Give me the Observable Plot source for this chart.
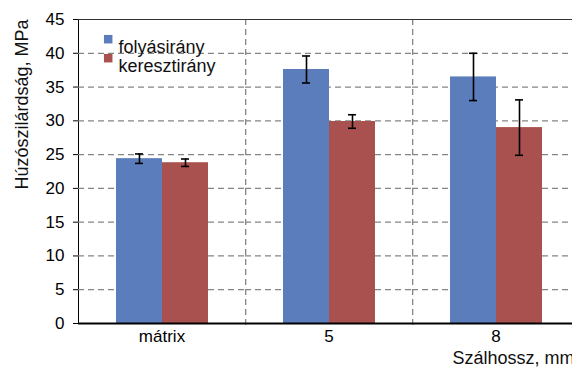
<!DOCTYPE html>
<html><head><meta charset="utf-8">
<script src="https://cdn.jsdelivr.net/npm/d3@7"></script>
<script src="https://cdn.jsdelivr.net/npm/@observablehq/plot@0.6"></script>
<style>html,body{margin:0;padding:0;background:#fff;overflow:hidden;} svg{max-width:none !important;}</style>
</head><body><div id="chart"></div>
<script>
const categories = ["mátrix", "5", "8"];
const series = ["folyásirány", "keresztirány"];
const folyasirany = [24.4, 37.6, 36.5];
const folyasiranyErr = [0.7, 2.0, 3.5];
const keresztirany = [23.8, 29.9, 29.0];
const keresztiranyErr = [0.55, 1.0, 4.1];
const yTicks = [0, 5, 10, 15, 20, 25, 30, 35, 40, 45];
const yLabel = "Húzószilárdság, MPa";
const xLabel = "Szálhossz, mm";
const colors = ["#5B7DBB", "#A9514E"];

const values = [folyasirany, keresztirany];
const errors = [folyasiranyErr, keresztiranyErr];
const rows = [];
categories.forEach((cat, i) => series.forEach((s, j) => {
  rows.push({cat, s, v: values[j][i], lo: values[j][i] - errors[j][i], hi: values[j][i] + errors[j][i]});
}));

const W = 580, ML = 77, MR = 1;
const facetW = (W - ML - MR) / categories.length;
const font = "'Liberation Sans', Arial, sans-serif";

const legendRows = series.map((s, i) => ({cat: categories[0], s, i}));

const chart = Plot.plot({
  width: W, height: 371,
  marginLeft: ML, marginRight: MR, marginTop: 19, marginBottom: 48,
  style: {fontFamily: font, fontSize: "17px", color: "#000", background: "#fff", maxWidth: "none"},
  fx: {domain: categories, padding: 0, label: null, tickSize: 0, tickPadding: 6, axis: "bottom"},
  x: {domain: series, paddingInner: 0, paddingOuter: 0.8, axis: null},
  y: {domain: [0, 45], ticks: yTicks, tickSize: 5, tickPadding: 9, label: null, line: true},
  color: {domain: series, range: colors},
  marks: [
    Plot.ruleY(yTicks.filter(t => t > 0 && t < 45), {stroke: "#858585", strokeWidth: 1.3, strokeDasharray: "6,4"}),
    Plot.ruleX([0], {x: null, dx: facetW / 2, stroke: "#858585", strokeWidth: 1.3, strokeDasharray: "6,4", insetBottom: -5}),
    Plot.ruleY([45], {stroke: "#333", strokeWidth: 1}),
    Plot.barY(rows, {fx: "cat", x: "s", y: "v", fill: "s"}),
    Plot.ruleX(rows, {fx: "cat", x: "s", y1: "lo", y2: "hi", stroke: "#000", strokeWidth: 1.6}),
    Plot.tickY(rows, {fx: "cat", x: "s", y: "lo", stroke: "#000", strokeWidth: 1.6, insetLeft: 19, insetRight: 19}),
    Plot.tickY(rows, {fx: "cat", x: "s", y: "hi", stroke: "#000", strokeWidth: 1.6, insetLeft: 19, insetRight: 19}),
    Plot.ruleY([0], {stroke: "#000", strokeWidth: 2}),
    ...legendRows.map(r => Plot.dot([r], {fx: "cat", frameAnchor: "top-left", dx: 29.7, dy: 19.7 + r.i * 19, symbol: "square", r: 4.8, fill: colors[r.i], stroke: null})),
    ...legendRows.map(r => Plot.text([r], {fx: "cat", frameAnchor: "top-left", dx: 40, dy: 21 + r.i * 19, text: "s", textAnchor: "start", fontSize: 18, fill: "#111"})),
    Plot.text([{cat: categories[0]}], {fx: "cat", frameAnchor: "top-left", dx: -63.5, dy: 0, text: () => yLabel, rotate: -90, textAnchor: "end", fontSize: 18, fill: "#111"}),
    Plot.text([{cat: categories[2]}], {fx: "cat", frameAnchor: "bottom", dx: -43.5, dy: 40, text: () => xLabel, textAnchor: "start", fontSize: 18, fill: "#111"})
  ]
});
document.getElementById("chart").appendChild(chart);
</script>
</body></html>
